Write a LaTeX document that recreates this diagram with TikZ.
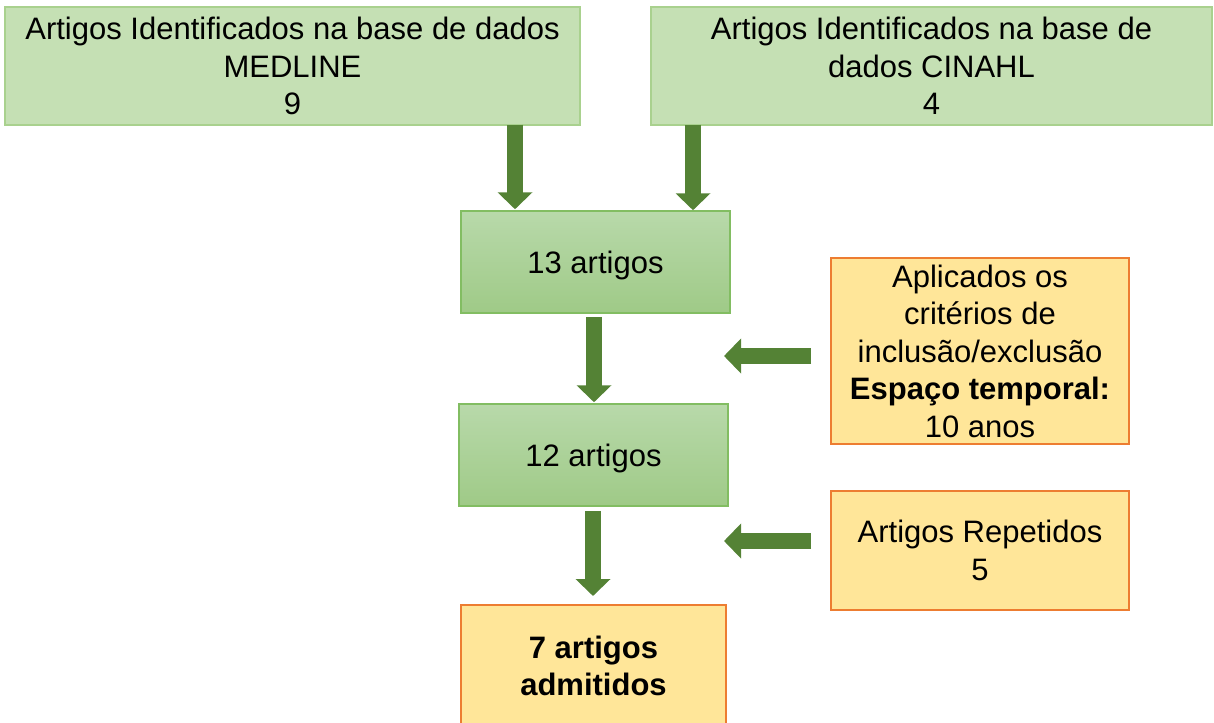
\documentclass[tikz,border=0pt]{standalone}
\usepackage{fontspec}
\setmainfont{Liberation Sans}
\usetikzlibrary{arrows.meta,positioning}
\definecolor{boxgreen}{HTML}{C5E0B4}
\definecolor{boxgreenline}{HTML}{A9D18E}
\definecolor{midtop}{HTML}{B8D9AA}
\definecolor{midbot}{HTML}{9FCA87}
\definecolor{midline}{HTML}{82BD62}
\definecolor{orfill}{HTML}{FFE699}
\definecolor{orline}{HTML}{ED7D31}
\definecolor{arrgreen}{HTML}{548235}
\begin{document}
\begin{tikzpicture}[x=1pt,y=-1pt,
  every node/.style={font=\fontsize{31}{37.5}\selectfont, align=center, inner sep=0pt},
  topbox/.style={rectangle, fill=boxgreen, draw=boxgreenline, line width=1.5pt},
  midbox/.style={rectangle, top color=midtop, bottom color=midbot, draw=midline, line width=1.5pt, text depth=0pt},
  orbox/.style={rectangle, fill=orfill, draw=orline, line width=2pt},
  bigarrow/.style={draw=arrgreen, line width=16pt, -{Triangle[width=34pt,length=17pt]}}]
\useasboundingbox (0,0) rectangle (1214,722);
\node[topbox, minimum width=575pt, minimum height=118pt] (med) at (292.5,66)
  {Artigos Identificados na base de dados\\MEDLINE\\9};
\node[topbox, minimum width=561pt, minimum height=118pt] (cin) at (931.5,66)
  {Artigos Identificados na base de\\dados CINAHL\\4};
\node[midbox, minimum width=269pt, minimum height=102pt] (n13) at (595.5,262) {13 artigos};
\node[midbox, minimum width=269pt, minimum height=102pt] (n12) at (593.5,455) {12 artigos};
\node[orbox, minimum width=265pt, minimum height=122pt] (n7) at (593.5,666)
  {\bfseries 7 artigos\\\bfseries admitidos};
\node[orbox, minimum width=298pt, minimum height=186pt] (crit) at (980,351)
  {Aplicados os\\critérios de\\inclusão/exclusão\\\bfseries Espaço temporal:\\10 anos};
\node[orbox, minimum width=298pt, minimum height=119pt] (rep) at (980,550.5)
  {Artigos Repetidos\\5};
\coordinate (x1) at (515,0);
\coordinate (x2) at (693,0);
\coordinate (x3) at (594,0);
\coordinate (x4) at (593,0);
\coordinate (t1) at (724,356);
\coordinate (t2) at (724,541);
\draw[bigarrow, shorten <=-1pt, shorten >=1pt] (med.south -| x1) -- (n13.north -| x1);
\draw[bigarrow, shorten <=-1pt] (cin.south -| x2) -- (n13.north -| x2);
\draw[bigarrow, shorten <=3pt, shorten >=1pt] (n13.south -| x3) -- (n12.north -| x3);
\draw[bigarrow, shorten <=4pt, shorten >=8pt] (n12.south -| x4) -- (n7.north -| x4);
\draw[bigarrow, shorten <=19pt] (crit.west |- t1) -- (t1);
\draw[bigarrow, shorten <=19pt] (rep.west |- t2) -- (t2);
\end{tikzpicture}
\end{document}
